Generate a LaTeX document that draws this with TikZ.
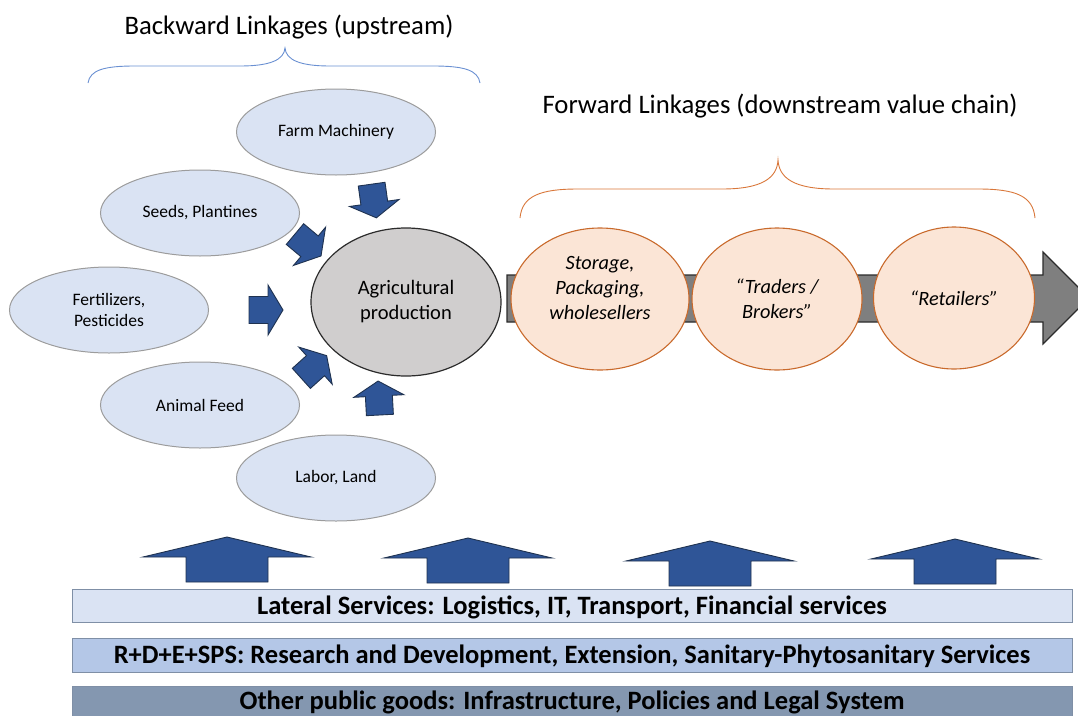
\documentclass[tikz,border=0pt]{standalone}
\usepackage{fontspec}
\setmainfont{Carlito}
\usetikzlibrary{shapes.geometric}

\definecolor{inputfill}{HTML}{DAE3F3}
\definecolor{inputline}{HTML}{9C9C9C}
\definecolor{prodfill}{HTML}{D0CECE}
\definecolor{prodline}{HTML}{2B2B2B}
\definecolor{flowblue}{HTML}{2F5597}
\definecolor{flowline}{HTML}{1F3250}
\definecolor{chainfill}{HTML}{FBE5D6}
\definecolor{chainline}{HTML}{C96A2C}
\definecolor{chaingray}{HTML}{7F7F7F}
\definecolor{chaindark}{HTML}{2B2B2B}
\definecolor{braceblue}{HTML}{6A90D2}
\definecolor{braceorange}{HTML}{D9773A}
\definecolor{barone}{HTML}{DAE3F3}
\definecolor{bartwo}{HTML}{B4C7E7}
\definecolor{barthree}{HTML}{8497B0}
\definecolor{barline}{HTML}{7F8FA6}

% rotated block arrow pointing at the production ellipse: x, y, angle
\newcommand{\inarrow}[3]{%
  \draw[blockarrow, shift={(#1,#2)}, rotate=#3]
    (-17,-13.5) -- (2,-13.5) -- (2,-25) -- (17,0) -- (2,25) -- (2,13.5) -- (-17,13.5) -- cycle;}
% upward block arrow standing on the service bars: x of its tip, y of its tip
\newcommand{\servicearrow}[2]{%
  \draw[blockarrow, shift={(#1,#2)}]
    (0,0) -- (84,20) -- (41,20) -- (41,45) -- (-41,45) -- (-41,20) -- (-84,20) -- cycle;}

\begin{document}
\begin{tikzpicture}[x=1pt, y=-1pt,
  title/.style={font=\fontsize{26.7}{30}\selectfont, text=black},
  input/.style={ellipse, draw=inputline, line width=1pt, fill=inputfill,
    minimum width=199pt, minimum height=86pt, inner sep=0pt, align=center,
    font=\fontsize{17.5}{21}\selectfont},
  prod/.style={ellipse, draw=prodline, line width=1.2pt, fill=prodfill,
    minimum width=190pt, minimum height=148pt, inner sep=0pt, align=center,
    font=\fontsize{20.5}{25}\selectfont},
  chain/.style={ellipse, draw=chainline, line width=1.1pt, fill=chainfill,
    minimum height=142pt, inner sep=0pt, align=center,
    font=\fontsize{20.3}{25}\itshape\selectfont},
  blockarrow/.style={fill=flowblue, draw=flowline, line width=0.9pt, line join=miter},
  bar/.style={rectangle, draw=barline, line width=1pt, minimum width=1000pt,
    inner sep=0pt, text height=19pt, text depth=2pt,
    font=\fontsize{26.5}{30}\bfseries\selectfont},
  bluebrace/.style={draw=braceblue, line width=0.9pt},
  orangebrace/.style={draw=braceorange, line width=0.9pt}]
\useasboundingbox (0,0) rectangle (1078,715);
\clip (0,0) rectangle (1078,715);

% headings and braces
\node[title] (btitle) at (289,27) {Backward Linkages (upstream)};
\node[title] (ftitle) at (780,106) {Forward Linkages (downstream value chain)};
\draw[bluebrace] (88,83) .. controls (90,70) and (104,66) .. (135,66) -- (240,66)
  .. controls (270,66) and (284,60) .. (285,48)
  .. controls (286,60) and (300,66) .. (330,66) -- (433,66)
  .. controls (464,66) and (478,70) .. (480,83);
\draw[orangebrace] (520,218) .. controls (522,196) and (540,189) .. (578,189) -- (722,189)
  .. controls (762,189) and (777,178) .. (778,160)
  .. controls (779,178) and (794,189) .. (834,189) -- (978,189)
  .. controls (1016,189) and (1033,196) .. (1035,218);

% value chain arrow
\draw[fill=chaingray, draw=chaindark, line width=1.1pt]
  (507,275) -- (1043,275) -- (1043,252) -- (1089,298) -- (1043,344) -- (1043,322) -- (507,322) -- cycle;

% inputs
\node[input] (farm) at (336,132) {Farm Machinery};
\node[input] (seeds) at (200,213) {Seeds, Plantines};
\node[input] (fert) at (109,310) {Fertilizers,\\Pesticides};
\node[input] (feed) at (200,405) {Animal Feed};
\node[input] (labor) at (336,478) {Labor, Land};

\node[prod] (agri) at (406,302) {Agricultural\\production};

\inarrow{374}{201}{-82}
\inarrow{308}{245}{-40}
\inarrow{266}{310}{0}
\inarrow{314}{367}{42}
\inarrow{379}{398}{93}

% downstream stages
\node[chain, minimum width=178pt] (storage) at (600,299) {};
\node[font=\fontsize{20.3}{25}\itshape\selectfont, align=center] (storagetext) at (600,288)
  {Storage,\\Packaging,\\wholesellers};
\node[chain, minimum width=170pt] (traders) at (777,299) {“Traders /\\Brokers”};
\node[chain, minimum width=161pt] (retail) at (954,298) {“Retailers”};

% supporting services
\servicearrow{227}{537}
\servicearrow{468}{538}
\servicearrow{710}{541}
\servicearrow{955}{539}

\node[bar, fill=barone, minimum height=33pt] (lateral) at (572,605.5)
  {Lateral Services: Logistics, IT, Transport, Financial services};
\node[bar, fill=bartwo, minimum height=34pt] (rdes) at (572,655)
  {R+D+E+SPS: Research and Development, Extension, Sanitary-Phytosanitary Services};
\node[bar, fill=barthree, minimum height=34pt, text height=17pt, text depth=4pt] (public) at (572,703)
  {Other public goods: Infrastructure, Policies and Legal System};
\end{tikzpicture}
\end{document}
